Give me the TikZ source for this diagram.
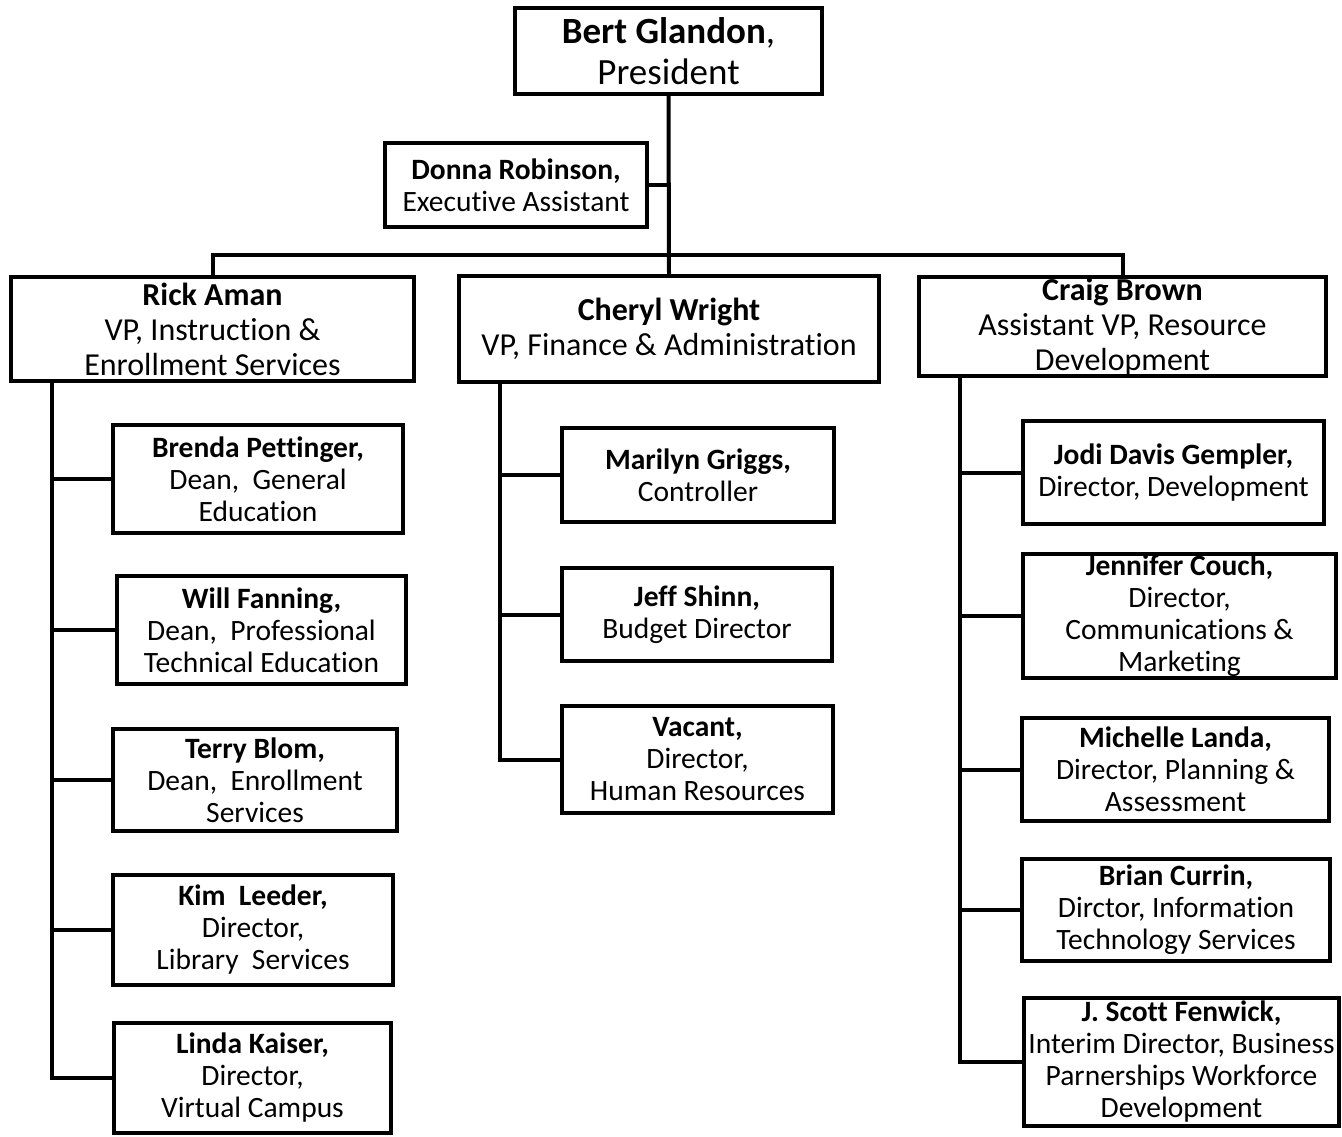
\documentclass[tikz,border=0pt]{standalone}
\usepackage{fontspec}
\setmainfont{Carlito}[Ligatures=NoCommon]
\tikzset{
  box/.style={draw, line width=4pt, inner sep=0pt, align=center, font=\fontsize{29.5}{32}\selectfont},
  vpbox/.style={box, font=\fontsize{32}{35}\selectfont},
  presbox/.style={box, font=\fontsize{37}{41}\selectfont},
  conn/.style={line width=4pt, line join=miter}
}
\begin{document}
\begin{tikzpicture}[x=1pt,y=-1pt]
\useasboundingbox (0,0) rectangle (1342,1136);
% top
\node[presbox, minimum width=307pt, minimum height=86pt] (pres) at (668.5,51) {\textbf{Bert Glandon}, \\ President};
\node[box, minimum width=262pt, minimum height=84pt] (donna) at (516,185) {\textbf{Donna Robinson,}\\Executive Assistant};
% VPs
\node[vpbox, minimum width=403pt, minimum height=104pt] (rick) at (212.5,329) {\textbf{Rick Aman}\\VP, Instruction \&\\Enrollment Services};
\node[vpbox, minimum width=420pt, minimum height=106pt] (cheryl) at (669,329) {\textbf{Cheryl Wright}\\VP, Finance \& Administration};
\node[vpbox, minimum width=407pt, minimum height=99pt] (craig) at (1122.5,326.5) {\textbf{Craig Brown}\\Assistant VP, Resource\\Development};
% left column
\node[box, minimum width=290pt, minimum height=108pt] (brenda) at (258,479) {\textbf{Brenda Pettinger,}\\Dean,~ General\\Education};
\node[box, minimum width=289pt, minimum height=108pt] (will) at (261.5,630) {\textbf{Will Fanning,}\\Dean,~ Professional\\Technical Education};
\node[box, minimum width=284pt, minimum height=102pt] (terry) at (255,780) {\textbf{Terry Blom,}\\Dean,~ Enrollment\\Services};
\node[box, minimum width=280pt, minimum height=110pt] (kim) at (253,930) {\textbf{Kim~ Leeder,}\\Director,\\Library~ Services};
\node[box, minimum width=277pt, minimum height=110pt] (linda) at (252.5,1078) {\textbf{Linda Kaiser,}\\Director,\\Virtual Campus};
% middle column
\node[box, minimum width=272pt, minimum height=94pt] (marilyn) at (698,475) {\textbf{Marilyn Griggs,}\\Controller};
\node[box, minimum width=270pt, minimum height=93pt] (jeff) at (697,614.5) {\textbf{Jeff Shinn,}\\Budget Director};
\node[box, minimum width=271pt, minimum height=107pt] (vacant) at (697.5,759.5) {\textbf{Vacant,}\\Director,\\Human Resources};
% right column
\node[box, minimum width=301pt, minimum height=103pt] (jodi) at (1173.5,472.5) {\textbf{Jodi Davis Gempler,}\\Director, Development};
\node[box, minimum width=313pt, minimum height=124pt] (jennifer) at (1179.5,616) {\textbf{Jennifer Couch,}\\Director,\\Communications \&\\Marketing};
\node[box, minimum width=307pt, minimum height=103pt] (michelle) at (1175.5,769.5) {\textbf{Michelle Landa,}\\Director, Planning \&\\Assessment};
\node[box, minimum width=308pt, minimum height=102pt] (brian) at (1176,910) {\textbf{Brian Currin,}\\Dirctor, Information\\Technology Services};
\node[box, minimum width=315pt, minimum height=128pt] (fenwick) at (1181.5,1062) {\textbf{J. Scott Fenwick,}\\Interim Director, Business\\Parnerships Workforce\\Development};
% coordinates
\coordinate (trunk) at (669,0);
\coordinate (bar) at (0,255);
\coordinate (ls) at (52,0);
\coordinate (ms) at (500,0);
\coordinate (rs) at (960,0);
% connectors
\draw[conn] (pres.south) -- (cheryl.north);
\draw[conn] (donna.east) -- (donna.east -| trunk);
\draw[conn] (rick.north) |- (bar -| craig.north) -- (craig.north);
% left spine
\draw[conn] (rick.south -| ls) |- (linda.west);
\foreach \n in {brenda,will,terry,kim} \draw[conn] (\n.west) -- (\n.west -| ls);
% middle spine
\draw[conn] (cheryl.south -| ms) |- (vacant.west);
\foreach \n in {marilyn,jeff} \draw[conn] (\n.west) -- (\n.west -| ms);
% right spine
\draw[conn] (craig.south -| rs) |- (fenwick.west);
\foreach \n in {jodi,jennifer,michelle,brian} \draw[conn] (\n.west) -- (\n.west -| rs);
\end{tikzpicture}
\end{document}
